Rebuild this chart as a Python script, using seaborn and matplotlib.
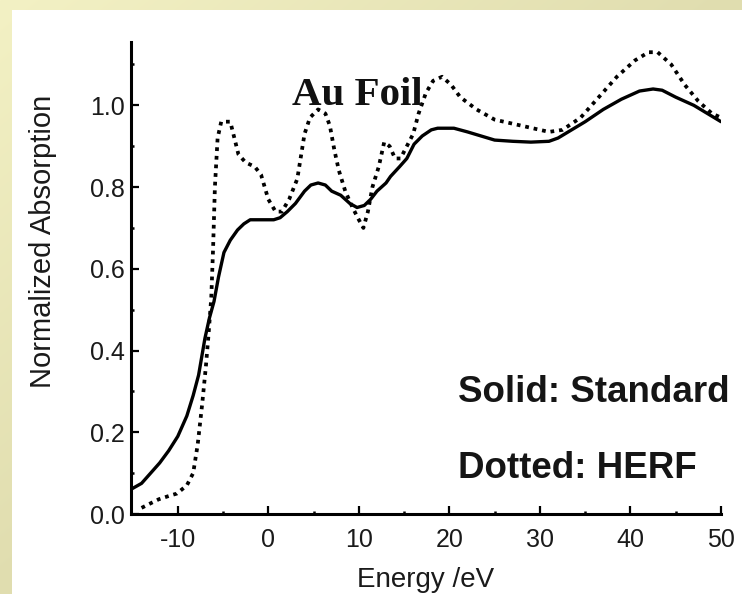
import numpy as np
import pandas as pd
import matplotlib
matplotlib.use("Agg")
import matplotlib.pyplot as plt
from matplotlib.patches import Rectangle
import seaborn as sns

# Au L3-edge XANES of gold foil: conventional transmission vs. HERF detection
energy_standard = [-15.2, -14.0, -13.0, -12.0, -11.0, -10.0, -9.0, -8.3, -7.7, -7.0,
                   -6.5, -6.0, -5.5, -4.9, -4.2, -3.4, -2.7, -2.0, 0.6, 1.3,
                   2.1, 3.0, 4.0, 4.7, 5.5, 6.3, 7.0, 8.0, 9.0, 9.8,
                   10.6, 11.3, 12.0, 13.0, 13.5, 14.5, 15.3, 16.1, 17.0, 18.0,
                   18.7, 20.5, 22.0, 23.5, 25.0, 27.0, 29.0, 31.0, 32.0, 33.5,
                   35.0, 37.0, 39.0, 41.0, 42.5, 43.5, 45.0, 47.0, 48.5, 50.0]
absorption_standard = [0.060, 0.075, 0.100, 0.125, 0.155, 0.190, 0.240, 0.290, 0.340, 0.430,
                       0.480, 0.520, 0.580, 0.640, 0.670, 0.695, 0.710, 0.720, 0.720, 0.725,
                       0.740, 0.760, 0.790, 0.805, 0.810, 0.805, 0.790, 0.780, 0.760, 0.750,
                       0.755, 0.770, 0.790, 0.810, 0.826, 0.850, 0.870, 0.905, 0.925, 0.940,
                       0.944, 0.944, 0.935, 0.925, 0.915, 0.912, 0.910, 0.912, 0.920, 0.940,
                       0.960, 0.990, 1.015, 1.035, 1.040, 1.037, 1.020, 1.000, 0.980, 0.960]

energy_herf = [-14.0, -13.2, -12.1, -11.0, -10.1, -9.0, -8.3, -7.8, -7.3, -6.9,
               -6.6, -6.3, -6.1, -5.9, -5.6, -5.2, -4.2, -3.3, -2.5, -1.5,
               -0.8, 0.0, 0.8, 1.5, 2.3, 3.2, 4.0, 4.6, 5.5, 6.3,
               6.8, 7.3, 7.8, 8.5, 9.3, 10.0, 10.5, 11.0, 11.5, 12.2,
               12.8, 13.4, 14.0, 14.6, 15.3, 16.0, 16.6, 17.4, 18.2, 19.2,
               20.2, 21.2, 23.0, 25.0, 27.0, 29.0, 31.0, 32.5, 34.5, 36.5,
               38.5, 40.5, 42.0, 43.0, 44.5, 46.0, 47.5, 49.0, 50.0]
absorption_herf = [0.015, 0.024, 0.036, 0.044, 0.050, 0.070, 0.100, 0.170, 0.270, 0.360,
                   0.440, 0.530, 0.650, 0.800, 0.920, 0.960, 0.960, 0.880, 0.860, 0.850,
                   0.830, 0.770, 0.740, 0.740, 0.770, 0.820, 0.930, 0.970, 0.990, 0.980,
                   0.950, 0.890, 0.840, 0.790, 0.750, 0.720, 0.700, 0.740, 0.800, 0.850,
                   0.910, 0.900, 0.870, 0.870, 0.900, 0.930, 0.980, 1.030, 1.060, 1.070,
                   1.050, 1.020, 0.990, 0.965, 0.955, 0.945, 0.935, 0.940, 0.970, 1.020,
                   1.070, 1.110, 1.130, 1.130, 1.100, 1.050, 1.010, 0.980, 0.970]

x_ticks = [-10, 0, 10, 20, 30, 40, 50]
x_minor_ticks = [-5, 5, 15, 25, 35, 45]
y_ticks = [0.0, 0.2, 0.4, 0.6, 0.8, 1.0]
y_tick_labels = ["0.0", "0.2", "0.4", "0.6", "0.8", "1.0"]
y_minor_ticks = [0.1, 0.3, 0.5, 0.7, 0.9, 1.1]

standard = pd.DataFrame({"Energy": energy_standard, "Absorption": absorption_standard})
herf = pd.DataFrame({"Energy": energy_herf, "Absorption": absorption_herf})

sns.set_style("ticks")
plt.rcParams["font.family"] = ["Liberation Sans", "DejaVu Sans"]
plt.rcParams["axes.unicode_minus"] = False

W, H = 742, 594
fig = plt.figure(figsize=(W / 100, H / 100), dpi=100)

# pale yellow frame with a soft diagonal gradient
bg = fig.add_axes([0, 0, 1, 1], zorder=-10)
yy, xx = np.mgrid[0:H, 0:W]
t = np.clip(xx / W + yy / H, 0, 1)[..., None]
light = np.array([243, 241, 196]) / 255
dark = np.array([224, 221, 175]) / 255
bg.imshow(light + (dark - light) * t, extent=[0, 1, 0, 1], origin="upper", aspect="auto")
bg.add_patch(Rectangle((12 / W, 0), 1, 1 - 10 / H, color="white", lw=0))
bg.set_xlim(0, 1)
bg.set_ylim(0, 1)
bg.set_axis_off()

ax = fig.add_axes([130.7 / W, 80 / H, (721 - 130.7) / W, (514 - 42) / H])
ax.patch.set_alpha(0)

sns.lineplot(data=standard, x="Energy", y="Absorption", ax=ax, color="black",
             lw=2.4, sort=False, estimator=None)
sns.lineplot(data=herf, x="Energy", y="Absorption", ax=ax, color="black",
             lw=2.7, sort=False, estimator=None, linestyle=(0, (1.0, 1.3)))

ax.set_xlim(-15.2, 50)
ax.set_ylim(0, 1.155)
ax.set_xticks(x_ticks)
ax.set_xticks(x_minor_ticks, minor=True)
ax.set_yticks(y_ticks)
ax.set_yticklabels(y_tick_labels)
ax.set_yticks(y_minor_ticks, minor=True)

for side in ("top", "right"):
    ax.spines[side].set_visible(False)
for side in ("left", "bottom"):
    ax.spines[side].set_linewidth(2.2)
    ax.spines[side].set_color("black")

ax.tick_params(which="major", direction="in", length=6, width=1.6, color="black",
               labelsize=18, labelcolor="#1a1a1a")
ax.tick_params(which="minor", direction="in", length=2.5, width=1.8, color="black")
ax.tick_params(axis="x", which="major", pad=10)
ax.tick_params(axis="y", which="major", pad=4)

ax.set_xlabel("Energy /eV", fontsize=20, color="#1a1a1a", labelpad=11)
ax.set_ylabel("Normalized Absorption", fontsize=21, color="#1a1a1a")
ax.yaxis.set_label_coords(-0.125, 0.578)

ax.text(2.65, 1.001, "Au Foil", ha="left", va="baseline", fontsize=29.5,
        fontweight="bold", family=["Liberation Serif", "DejaVu Serif"], color="#111111")
ax.text(20.9, 0.274, "Solid: Standard", ha="left", va="baseline", fontsize=26.5,
        fontweight="bold", color="#151515")
ax.text(20.9, 0.088, "Dotted: HERF", ha="left", va="baseline", fontsize=26.5,
        fontweight="bold", color="#151515")

fig.savefig("out.png", dpi=100)
